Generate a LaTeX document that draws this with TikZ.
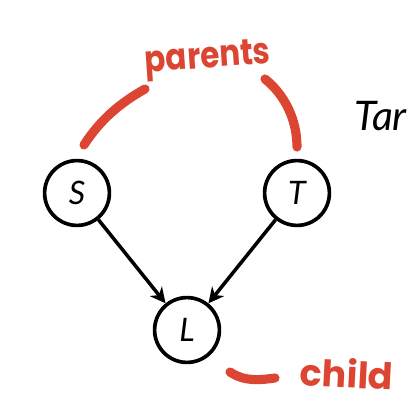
\documentclass[tikz,border=0pt]{standalone}
\usepackage{fontspec}
\setmainfont{Lato}
\newfontfamily\handfont{Poppins}
\usepackage{tikz}
\usetikzlibrary{arrows.meta,positioning,shadows}
\definecolor{markred}{HTML}{DD4533}

\begin{document}
\begin{tikzpicture}[
    x=0.025cm, y=-0.025cm,
    var/.style={circle, draw, line width=2.6pt, minimum size=1.62cm, inner sep=0pt, fill=white,
        font=\fontsize{23}{23}\selectfont\itshape,
        drop shadow={shadow xshift=0.8pt, shadow yshift=-0.8pt, fill=black!30, opacity=0.5}},
    edge/.style={-{Stealth[length=11pt,width=11pt,inset=3.5pt]}, line width=2.5pt},
    marker/.style={draw=markred, line width=6.5pt, line cap=round},
    note/.style={text=markred, font=\handfont\bfseries\fontsize{26}{26}\selectfont, inner sep=0pt}
]
\useasboundingbox (0,0) rectangle (408,420);

\node[var] (S) at (77,193) {S};
\node[var] (T) at (297,193) {T};
\node[var] (L) at (187,330) {L};

\draw[edge] (S) -- (L);
\draw[edge] (T) -- (L);

% annotation strokes
\node[note, rotate=4, xscale=0.85] (parents) at (208,60) {parents};
\node[note, rotate=-3] (child) at (347,373) {child};
\node[font=\fontsize{29}{29}\selectfont\itshape, anchor=west, inner sep=0pt] (tar) at (354,116) {Tar};

\coordinate (pl1) at (84,145);
\coordinate (pl2) at (145,89);
\coordinate (pr1) at (265,79);
\coordinate (pr2) at (297,147);
\coordinate (cl1) at (230,372);
\coordinate (cl2) at (275,378);

\draw[marker] (pl1) .. controls (100,120) and (120,103) .. (pl2);
\draw[marker] (pr1) .. controls (285,95) and (297,120) .. (pr2);
\draw[marker] (cl1) .. controls (245,382) and (260,380) .. (cl2);
\end{tikzpicture}
\end{document}
